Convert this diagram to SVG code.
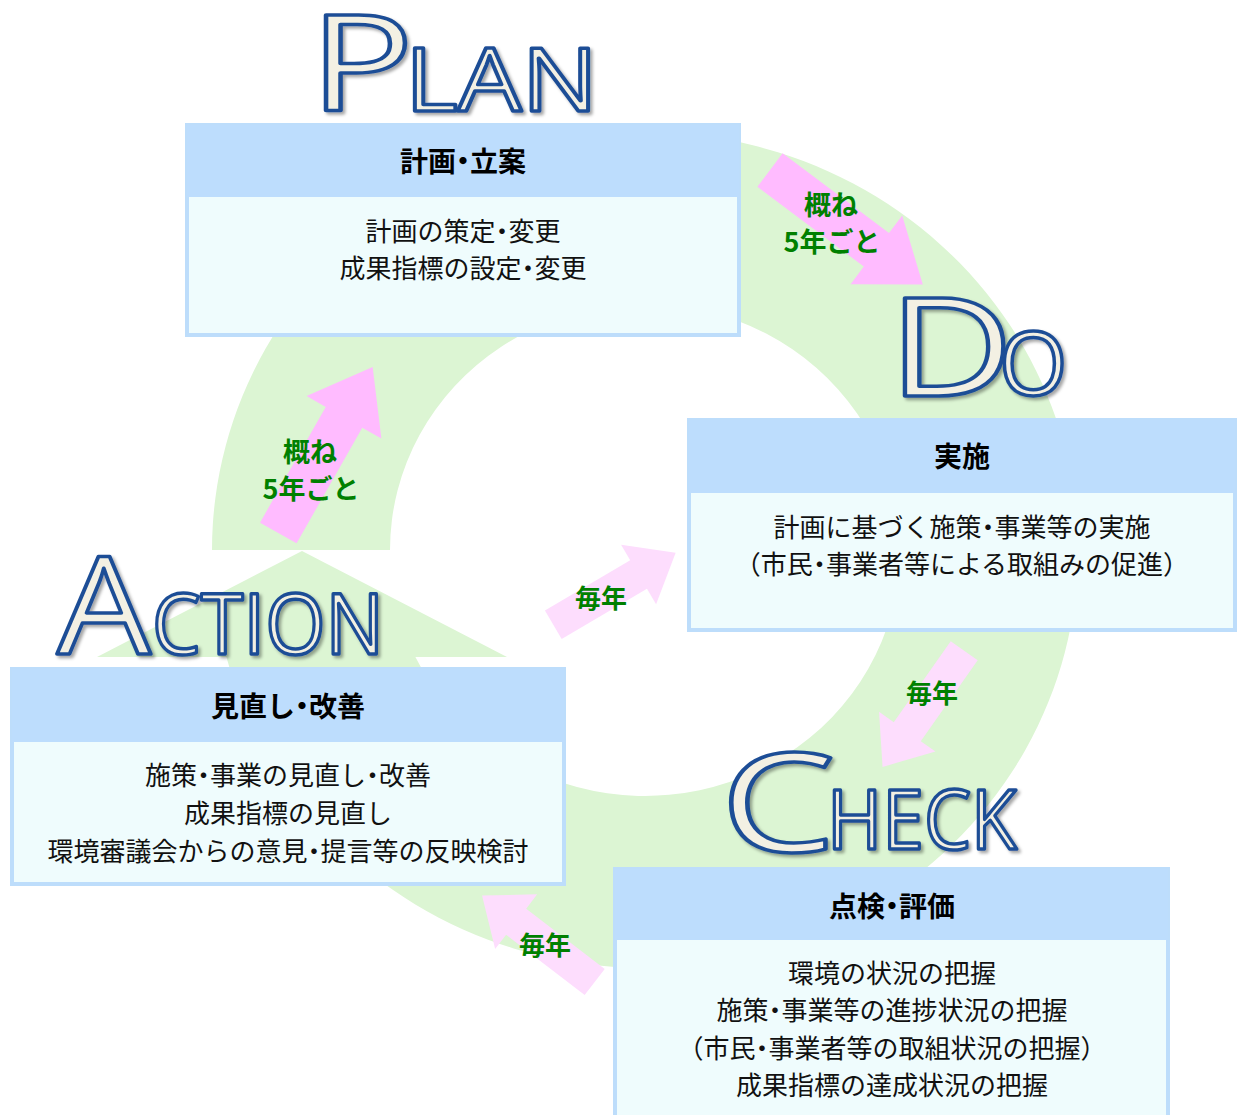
<svg xmlns="http://www.w3.org/2000/svg" width="1237" height="1115" viewBox="0 0 1237 1115">
<defs>
<filter id="sh" x="-20%" y="-20%" width="150%" height="150%">
<feDropShadow dx="2.5" dy="2.5" stdDeviation="1.8" flood-color="#000" flood-opacity="0.35"/>
</filter>
<path id="bigArrow" d="M0,-21 L133,-21 L133,-43 L191,0 L133,43 L133,21 L0,21 Z"/>
<path id="smallArrow" d="M0,-16.5 L99,-16.5 L99,-34.5 L142,0 L99,34.5 L99,16.5 L0,16.5 Z"/>
</defs>
<style>
.ring{fill:#DCF5D3;}
.pk1{fill:#FFBBFF;}
.pk2{fill:#FDDDFD;}
.box{fill:#EFFCFD;stroke:#BDDDFB;stroke-width:4;}
.hdr{fill:#BDDDFD;}
.t{font-family:"Noto Sans CJK JP","Noto Sans CJK SC",sans-serif;font-size:28px;font-weight:700;fill:#000;text-anchor:middle;dominant-baseline:central;}
.b{font-family:"Noto Sans CJK JP","Noto Sans CJK SC",sans-serif;font-size:26px;font-weight:400;fill:#111;text-anchor:middle;dominant-baseline:central;}
.g{font-family:"Noto Sans CJK JP","Noto Sans CJK SC",sans-serif;font-size:26px;font-weight:700;fill:#008000;text-anchor:middle;dominant-baseline:central;}
.g5{font-size:27px;}
.d{font-feature-settings:"hwid","halt";}
.w{font-family:"Open Sans","DejaVu Sans",sans-serif;font-weight:400;fill:#F3F0E3;stroke:#1F4E96;stroke-width:3.5;stroke-linejoin:round;filter:url(#sh);}
</style>
<rect width="1237" height="1115" fill="#fff"/>

<g id="cycle">
<path class="ring" d="M212,550 A433,418 0 1 1 226.4,657 L415.4,657 A255,246 0 1 0 390,550 Z"/>
<path class="ring" d="M302,551 L97,657 L507,657 Z"/>
</g>

<g id="connectors">
<use href="#bigArrow" class="pk1" transform="translate(770,170) rotate(36.87)"/>
<use href="#bigArrow" class="pk1" transform="translate(278.3,533) rotate(-60.4)"/>
<use href="#smallArrow" class="pk2" transform="translate(553.3,624.8) rotate(-30.5)"/>
<use href="#smallArrow" class="pk2" transform="translate(964.2,650.7) rotate(125.1)"/>
<use href="#smallArrow" class="pk2" transform="translate(594.7,982) rotate(-142.5)"/>
<text class="g g5" x="831" y="203">概ね</text>
<text class="g g5" x="832" y="240">5年ごと</text>
<text class="g g5" x="310" y="450">概ね</text>
<text class="g g5" x="311" y="487">5年ごと</text>
<text class="g" x="601" y="596">毎年</text>
<text class="g" x="932" y="691">毎年</text>
<text class="g" x="545" y="943">毎年</text>
</g>

<g id="plan">
<rect class="box" x="187" y="125" width="552" height="210"/>
<rect class="hdr" x="187" y="125" width="552" height="72"/>
<text class="t" x="463" y="160">計画<tspan class="d">・</tspan>立案</text>
<text class="b" x="463" y="229">計画の策定<tspan class="d">・</tspan>変更</text>
<text class="b" x="463" y="266">成果指標の設定<tspan class="d">・</tspan>変更</text>
<text class="w" x="309" y="111" font-size="133" textLength="105" lengthAdjust="spacingAndGlyphs">P</text>
<text class="w" x="405" y="111" font-size="88" textLength="193" lengthAdjust="spacingAndGlyphs">LAN</text>
</g>

<g id="do">
<rect class="box" x="689" y="420" width="546" height="210"/>
<rect class="hdr" x="689" y="420" width="546" height="73"/>
<text class="t" x="962" y="455">実施</text>
<text class="b" x="962" y="525">計画に基づく施策<tspan class="d">・</tspan>事業等の実施</text>
<text class="b" x="962" y="562">（市民<tspan class="d">・</tspan>事業者等による取組みの促進）</text>
<text class="w" x="888" y="396" font-size="138" textLength="126" lengthAdjust="spacingAndGlyphs">D</text>
<text class="w" x="999" y="395" font-size="88">O</text>
</g>

<g id="action">
<rect class="box" x="12" y="669" width="552" height="215"/>
<rect class="hdr" x="12" y="669" width="552" height="73"/>
<text class="t" x="288" y="705">見直し<tspan class="d">・</tspan>改善</text>
<text class="b" x="288" y="773">施策<tspan class="d">・</tspan>事業の見直し<tspan class="d">・</tspan>改善</text>
<text class="b" x="288" y="811">成果指標の見直し</text>
<text class="b" x="288" y="849">環境審議会からの意見<tspan class="d">・</tspan>提言等の反映検討</text>
<text class="w" x="57" y="654" font-size="135" textLength="94" lengthAdjust="spacingAndGlyphs">A</text>
<text class="w" x="152" y="654" font-size="84" textLength="232" lengthAdjust="spacingAndGlyphs">CTION</text>
</g>

<g id="check">
<rect class="box" x="615" y="869" width="553" height="260"/>
<rect class="hdr" x="615" y="869" width="553" height="71"/>
<text class="t" x="892" y="905">点検<tspan class="d">・</tspan>評価</text>
<text class="b" x="892" y="971">環境の状況の把握</text>
<text class="b" x="892" y="1008">施策<tspan class="d">・</tspan>事業等の進捗状況の把握</text>
<text class="b" x="892" y="1046">（市民<tspan class="d">・</tspan>事業者等の取組状況の把握）</text>
<text class="b" x="892" y="1083">成果指標の達成状況の把握</text>
<text class="w" x="720" y="852" font-size="138" textLength="116" lengthAdjust="spacingAndGlyphs">C</text>
<text class="w" x="827" y="849" font-size="82" textLength="190" lengthAdjust="spacingAndGlyphs">HECK</text>
</g>
</svg>
